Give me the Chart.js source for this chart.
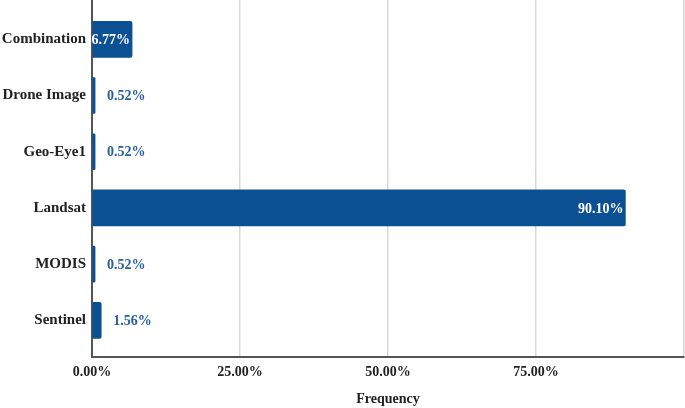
<!DOCTYPE html>
<html>
<head>
<meta charset="utf-8">
<script src="https://cdn.jsdelivr.net/npm/chart.js@4/dist/chart.umd.min.js"></script>
<style>
  html, body { margin: 0; padding: 0; background: #fff; }
  #wrap { width: 685px; height: 408px; }
</style>
</head>
<body>
<div id="wrap"><canvas id="myChart" width="685" height="408"></canvas></div>
<script>
// data
var categories = ["Combination", "Drone Image", "Geo-Eye1", "Landsat", "MODIS", "Sentinel"];
var frequency = [6.77, 0.52, 0.52, 90.10, 0.52, 1.56];
var xTicks = [0, 25, 50, 75, 100];

var barColor = "#0c5094";
var fontFamily = "'Liberation Serif', 'DejaVu Serif', serif";

/* value labels: inside the bar when it fits, else just after it */
var valueLabels = {
    id: 'valueLabels',
    afterDatasetsDraw: function(chart) {
        var ctx = chart.ctx;
        var meta = chart.getDatasetMeta(0);
        ctx.save();
        ctx.font = "bold 14px " + fontFamily;
        ctx.textBaseline = "middle";
        meta.data.forEach(function(bar, i) {
            var txt = frequency[i].toFixed(2) + "%";
            var w = ctx.measureText(txt).width;
            var len = bar.x - bar.base;
            if (len > w - 2) {
                ctx.fillStyle = "#ffffff";
                ctx.textAlign = "right";
                ctx.fillText(txt, bar.x - 2, bar.y + 1);
            } else {
                ctx.fillStyle = "#2660a0";
                ctx.textAlign = "left";
                ctx.fillText(txt, bar.x + 12, bar.y + 1);
            }
        });
        ctx.restore();
    }
};

var ctx = document.getElementById("myChart").getContext("2d");
var myChart = new Chart(ctx, {
    type: 'bar',
    data: {
        datasets: [{
            data: frequency.map(function(v, i) { return {x: v, y: i}; }),
            backgroundColor: barColor,
            borderRadius: 2,
            borderSkipped: 'start',
            barThickness: 36
        }]
    },
    options: {
        indexAxis: 'y',
        responsive: false,
        animation: false,
        layout: { padding: 0 },
        plugins: {
            legend: { display: false },
            tooltip: { enabled: false }
        },
        scales: {
            y: {
                type: 'linear',
                reverse: true,
                offset: false,
                min: -0.7,
                max: 5.66,
                afterBuildTicks: function(s) {
                    s.ticks = categories.map(function(c, i) { return {value: i}; });
                },
                afterFit: function(s) {
                    s.paddingTop = 0;
                    s.paddingBottom = 0;
                    s.width = 92;
                },
                ticks: {
                    padding: 6,
                    color: "#222",
                    font: { family: fontFamily, size: 15, weight: 'bold' },
                    callback: function(v) { return categories[v] || ''; }
                },
                grid: { display: false, drawTicks: false },
                border: { display: true, color: "#555", width: 2 }
            },
            x: {
                type: 'linear',
                min: 0,
                max: 100,
                afterBuildTicks: function(s) {
                    s.ticks = xTicks.map(function(v) { return {value: v}; });
                },
                afterFit: function(s) {
                    s.paddingLeft = 0;
                    s.paddingRight = 1;
                },
                ticks: {
                    padding: 7,
                    color: "#222",
                    maxRotation: 0,
                    font: { family: fontFamily, size: 14, weight: 'bold' },
                    callback: function(v) { return v < 100 ? v.toFixed(2) + "%" : ''; }
                },
                grid: { color: "#d9d9d9", lineWidth: 1.5, drawTicks: false },
                border: { display: true, color: "#555", width: 2 },
                title: {
                    display: true,
                    text: "Frequency",
                    color: "#222",
                    font: { family: fontFamily, size: 14, weight: 'bold' },
                    padding: { top: 3, bottom: 0 }
                }
            }
        }
    },
    plugins: [valueLabels]
});
</script>
</body>
</html>
